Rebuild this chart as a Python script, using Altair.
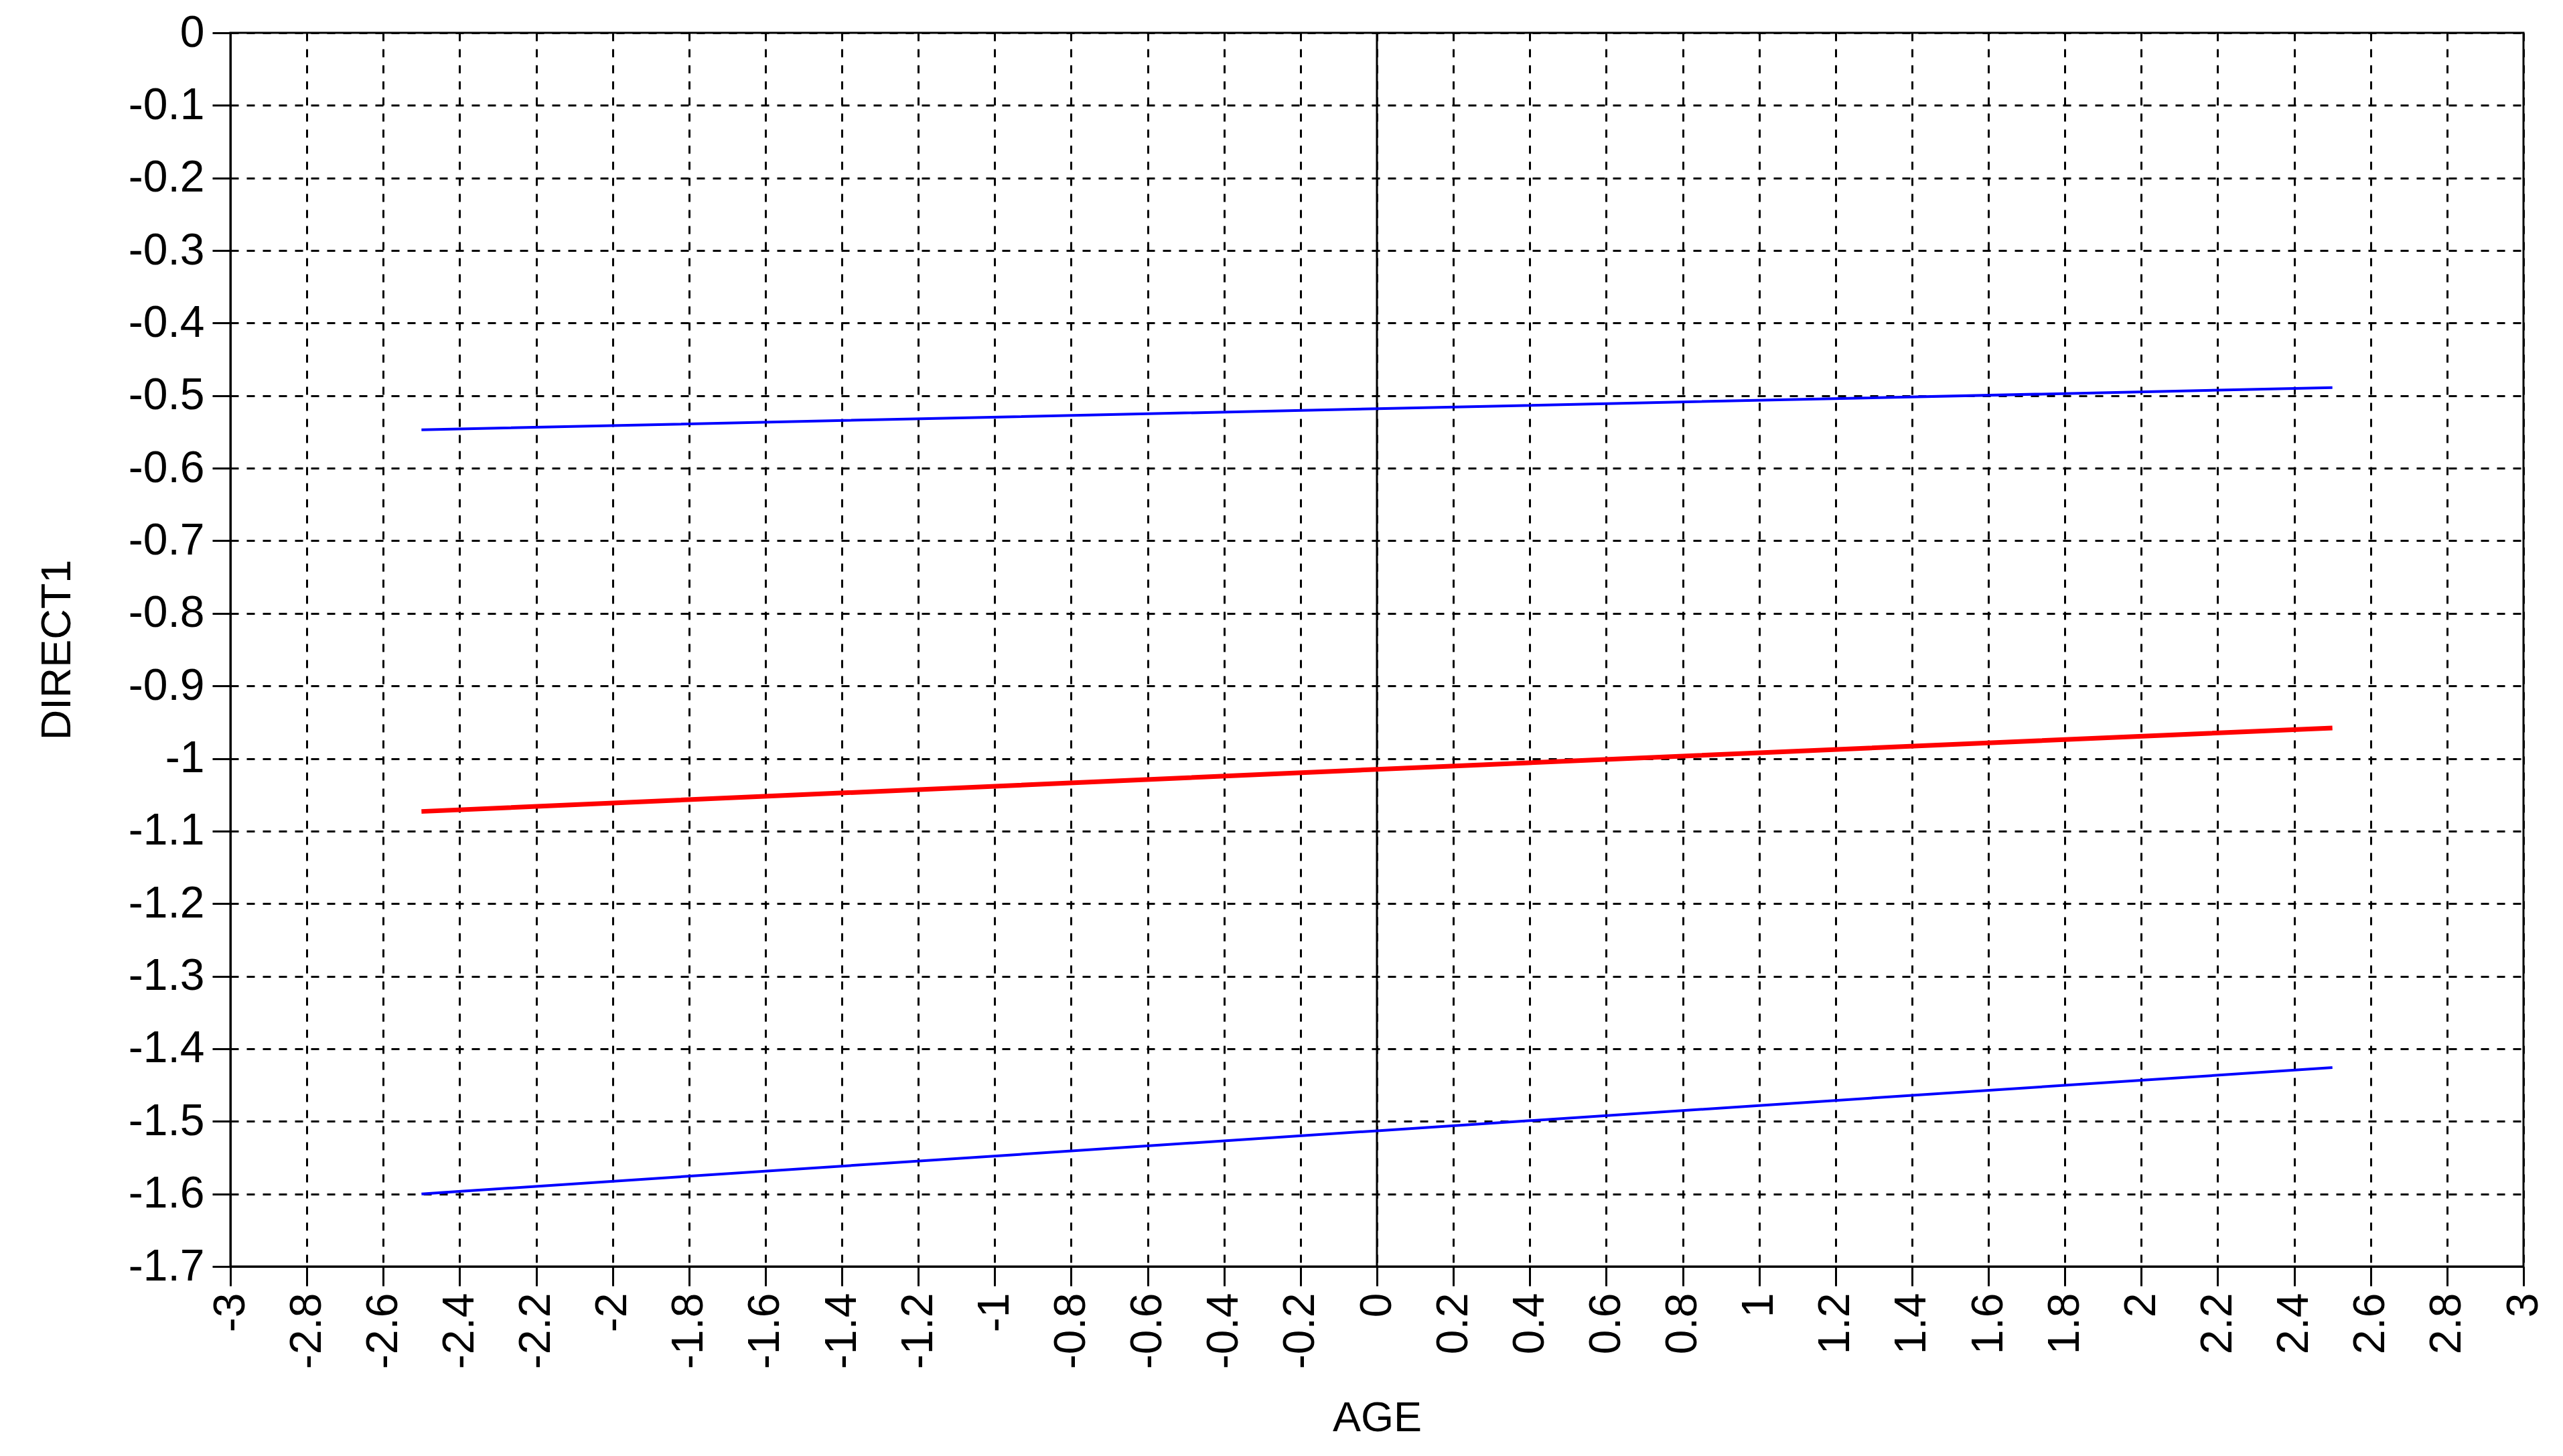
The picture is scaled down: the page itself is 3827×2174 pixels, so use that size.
import altair as alt
import pandas as pd

# Data
age = [-2.5, 0.0, 2.5]
direct_pred = [-1.073, -1.015, -0.958]
upper_band = [-0.547, -0.518, -0.489]
lower_band = [-1.600, -1.513, -1.426]
zero_x = [0.0]

x_ticks = [round(-3 + 0.2 * i, 1) for i in range(31)]
y_ticks = [round(-1.7 + 0.1 * i, 1) for i in range(18)]

pred_df = pd.DataFrame({"AGE": age, "DIRECT1": direct_pred})
band_df = pd.DataFrame({
    "AGE": age + age,
    "DIRECT1": upper_band + lower_band,
    "band": ["upper"] * len(age) + ["lower"] * len(age),
})
zero_df = pd.DataFrame({"AGE": zero_x})

FONT = "Liberation Sans"

x_scale = alt.Scale(domain=[-3, 3], nice=False, zero=False)
y_scale = alt.Scale(domain=[-1.7, 0], nice=False, zero=False)

x_axis = alt.Axis(
    values=x_ticks,
    labelExpr="'' + datum.value",
    labelAngle=270,
    labelFontSize=66,
    labelFont=FONT,
    labelColor="black",
    labelPadding=10,
    labelOverlap=False,
    labelFlush=False,
    tickSize=29,
    tickWidth=3,
    tickColor="black",
    domainColor="black",
    domainWidth=3,
    grid=True,
    gridColor="black",
    gridWidth=3,
    gridDash=[12, 12],
    gridOpacity=1,
    title="AGE",
    titleFont=FONT,
    titleFontSize=63,
    titleFontWeight="normal",
    titleColor="black",
    titlePadding=43,
)

y_axis = alt.Axis(
    values=y_ticks,
    labelExpr="'' + datum.value",
    labelFontSize=66,
    labelFont=FONT,
    labelColor="black",
    labelPadding=12,
    labelOverlap=False,
    labelFlush=False,
    tickSize=27,
    tickWidth=3,
    tickColor="black",
    domainColor="black",
    domainWidth=3,
    grid=True,
    gridColor="black",
    gridWidth=3,
    gridDash=[12, 12],
    gridOpacity=1,
    title="DIRECT1",
    titleFont=FONT,
    titleFontSize=63,
    titleFontWeight="normal",
    titleColor="black",
    titlePadding=74,
)

zero_rule = alt.Chart(zero_df).mark_rule(color="black", strokeWidth=3).encode(
    x=alt.X("AGE:Q", scale=x_scale, axis=x_axis)
)

bands = alt.Chart(band_df).mark_line(color="#0000FF", strokeWidth=4).encode(
    x=alt.X("AGE:Q", scale=x_scale, axis=x_axis),
    y=alt.Y("DIRECT1:Q", scale=y_scale, axis=y_axis),
    detail="band:N",
)

pred = alt.Chart(pred_df).mark_line(color="#FF0000", strokeWidth=7).encode(
    x=alt.X("AGE:Q", scale=x_scale, axis=x_axis),
    y=alt.Y("DIRECT1:Q", scale=y_scale, axis=y_axis),
)

chart = (
    alt.layer(zero_rule, bands, pred)
    .properties(
        width=3424,
        height=1842,
        autosize=alt.AutoSizeParams(type="none"),
        padding={"left": 336, "top": 41, "right": 51, "bottom": 275},
        background="white",
    )
    .configure_view(stroke="black", strokeWidth=3)
)

chart.save("out.html", embed_options={"renderer": "svg", "actions": False})
